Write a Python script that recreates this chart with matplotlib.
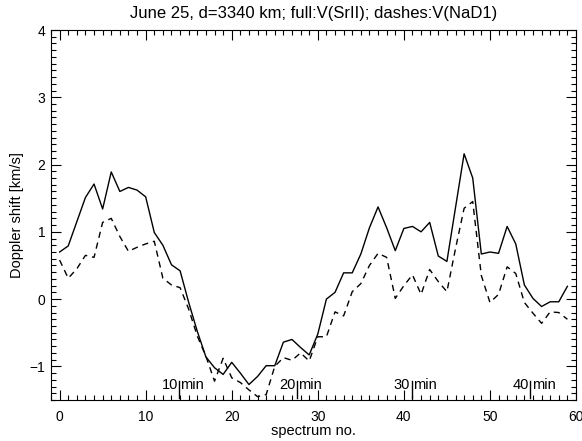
import numpy as np
import matplotlib
matplotlib.use("Agg")
import matplotlib.pyplot as plt
from matplotlib.ticker import MultipleLocator

plt.rcParams['font.family'] = ['Liberation Sans', 'DejaVu Sans']

# Doppler velocities per spectrum, km/s
spectrum = np.arange(60)
v_sr = [0.70, 0.79, 1.15, 1.51, 1.71, 1.34, 1.89, 1.60, 1.66, 1.62,
        1.52, 0.99, 0.80, 0.51, 0.42, -0.05, -0.48, -0.86, -1.02, -1.12,
        -0.94, -1.10, -1.27, -1.15, -0.99, -0.99, -0.64, -0.60, -0.72, -0.83,
        -0.52, 0.00, 0.10, 0.39, 0.39, 0.67, 1.06, 1.37, 1.06, 0.72,
        1.05, 1.08, 1.00, 1.14, 0.64, 0.56, 1.36, 2.16, 1.80, 0.67,
        0.70, 0.68, 1.08, 0.82, 0.21, 0.01, -0.11, -0.04, -0.04, 0.19]
v_na = [0.58, 0.31, 0.45, 0.65, 0.62, 1.14, 1.20, 0.93, 0.71, 0.77,
        0.82, 0.86, 0.31, 0.21, 0.17, -0.15, -0.55, -0.85, -1.22, -0.88,
        -1.17, -1.24, -1.35, -1.45, -1.42, -1.00, -0.87, -0.91, -0.80, -0.92,
        -0.56, -0.56, -0.19, -0.25, 0.11, 0.23, 0.50, 0.68, 0.62, 0.01,
        0.20, 0.36, 0.07, 0.44, 0.26, 0.11, 0.75, 1.35, 1.45, 0.35,
        -0.05, 0.07, 0.48, 0.38, -0.05, -0.21, -0.36, -0.19, -0.20, -0.30]

# elapsed-time markers along the spectrum axis
t_min = [10, 20, 30, 40]
t_pos = [13.9, 27.6, 40.9, 54.7]

fig = plt.figure(figsize=(5.82, 4.41), dpi=100)
ax = fig.add_axes([51/582, 1-400/441, 525/582, 370/441])

ax.plot(spectrum, v_sr, color='k', lw=1.0)
ax.plot(spectrum, v_na, color='k', lw=1.0, dashes=(4.5, 3.5))

for t, x in zip(t_min, t_pos):
    ax.plot([x, x], [-1.47, -1.22], color='k', lw=1.0)
    ax.text(x - 0.15, -1.33, str(t), ha='right', va='baseline', fontsize=10.5)
    ax.text(x + 0.15, -1.33, 'min', ha='left', va='baseline', fontsize=10.5)

ax.set_xlim(-1, 60)
ax.set_ylim(-1.5, 4)
ax.xaxis.set_major_locator(MultipleLocator(10))
ax.xaxis.set_minor_locator(MultipleLocator(1))
ax.yaxis.set_major_locator(MultipleLocator(1))
ax.yaxis.set_minor_locator(MultipleLocator(0.1))
ax.tick_params(which='both', direction='in', top=True, right=True,
               labelsize=10, width=0.8)
ax.tick_params(axis='x', pad=7)
ax.tick_params(axis='y', pad=4)
ax.tick_params(which='major', length=7)
ax.tick_params(which='minor', length=3.5)
for s in ax.spines.values():
    s.set_linewidth(0.8)

ax.set_xlabel('spectrum no.', fontsize=10.5, labelpad=0)
ax.set_ylabel('Doppler shift [km/s]', fontsize=10.5, labelpad=4)
ax.set_title('June 25, d=3340 km; full:V(SrII); dashes:V(NaD1)', fontsize=12, pad=9)

fig.savefig('out.png', dpi=100)
